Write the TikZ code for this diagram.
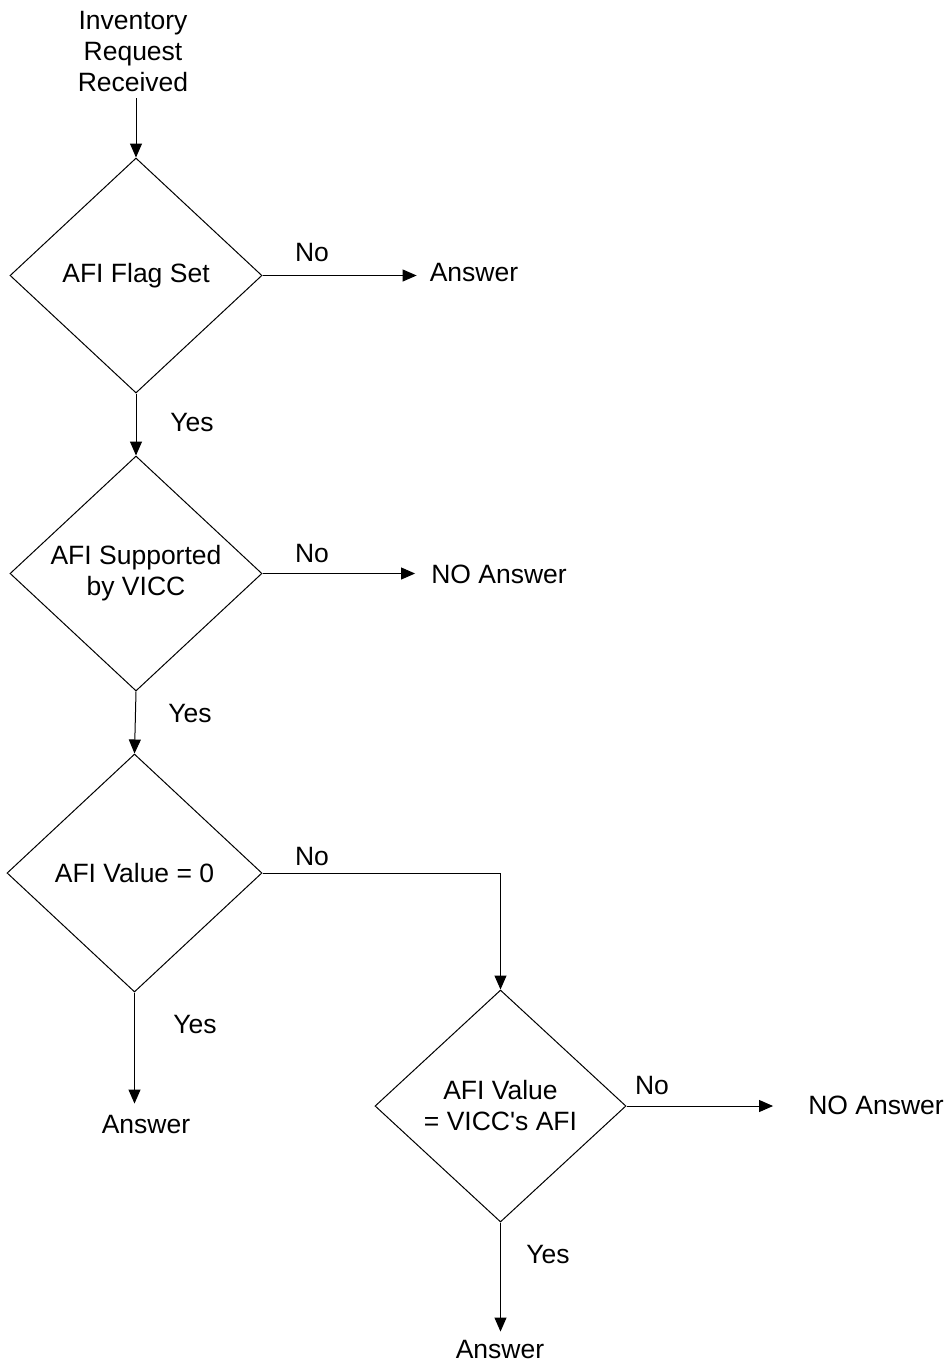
\documentclass[tikz,border=0pt]{standalone}
\usepackage{fontspec}
\setmainfont{Liberation Sans}
\usetikzlibrary{shapes.geometric,arrows.meta}
\begin{document}
\begin{tikzpicture}[x=1pt,y=-1pt,
  every node/.style={font=\fontsize{26.5}{31}\selectfont, inner sep=0pt},
  decision/.style={diamond, draw, line width=1pt, minimum width=252pt,
    minimum height=235pt, aspect=1.07, align=center},
  arr/.style={draw, line width=1pt, -{Triangle[length=14pt,width=12pt]}},
]
\useasboundingbox (0,0) rectangle (947,1361);

% start text
\node[align=center] (start) at (133,52) {Inventory\\Request\\Received};

% decisions
\node[decision] (d1) at (136,275.5) {AFI Flag Set};
\node[decision] (d2) at (136,573.5) {AFI Supported\\by VICC};
\node[decision, minimum width=255pt, minimum height=238pt] (d3) at (134.5,873) {AFI Value = 0};
\node[decision, minimum width=251pt, minimum height=232pt] (d4) at (500.5,1106)
  {AFI Value\\= VICC\textquotesingle s AFI};

% outcomes
\node (a1) at (474,273) {Answer};
\node (a2) at (499,574) {NO Answer};
\node (a3) at (146,1124) {Answer};
\node (a4) at (876,1105) {NO Answer};
\node (a5) at (500,1349) {Answer};

% branch labels
\node (n1) at (312,253) {No};
\node (n2) at (312,554) {No};
\node (n3) at (312,857) {No};
\node (n4) at (652,1085) {No};
\node (y1) at (192,423) {Yes};
\node (y2) at (190,714) {Yes};
\node (y3) at (195,1024) {Yes};
\node (y4) at (548,1254) {Yes};

% connectors
\draw[arr] ([yshift=-6pt]d1.north |- start.south) -- (d1.north);
\draw[arr] (d1.south) -- (d2.north);
\draw[arr] (d2.south) -- (d3.north);
\draw[arr] (d3.south) -- ([yshift=11pt]d3.south |- a3.north);
\draw[arr] (d4.south) -- ([yshift=8pt]d4.south |- a5.north);
\draw[arr] (d1.east) -- ([xshift=-13pt]d1.east -| a1.west);
\draw[arr] (d2.east) -- ([xshift=-16pt]d2.east -| a2.west);
\draw[arr] (d4.east) -- ([xshift=-35pt]d4.east -| a4.west);
\draw[arr] (d3.east) -| (d4.north);
\end{tikzpicture}
\end{document}
